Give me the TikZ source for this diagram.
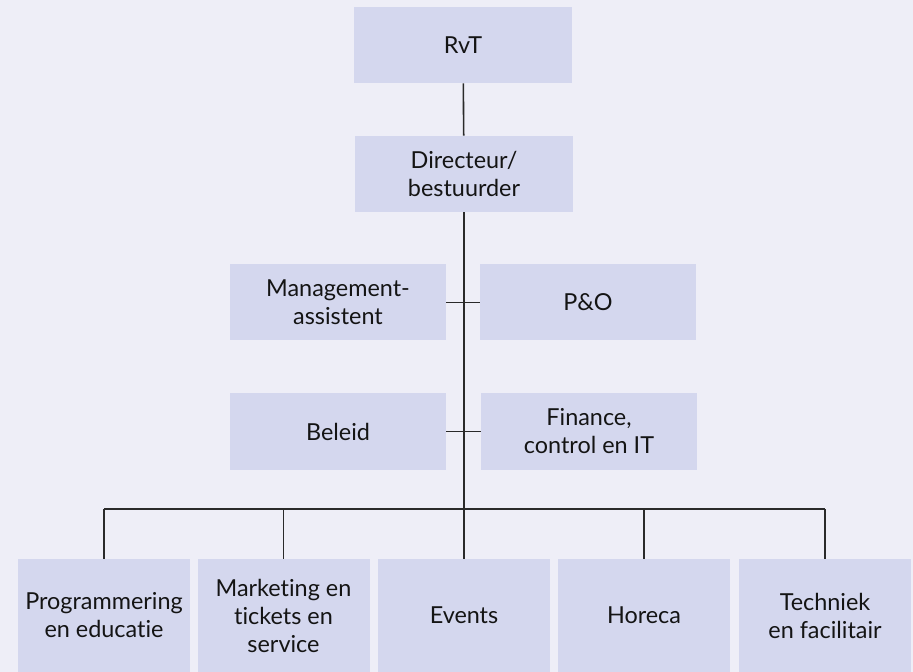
\documentclass[tikz,border=0pt]{standalone}
\usepackage{fontspec}
\setmainfont{Lato}[Ligatures=NoCommon]
\usetikzlibrary{positioning}
\definecolor{bgcol}{HTML}{EEEEF7}
\definecolor{boxcol}{HTML}{D4D7EE}
\definecolor{linecol}{HTML}{2A2A2A}
\definecolor{textcol}{HTML}{141414}
\begin{document}
\begin{tikzpicture}[x=0.5pt,y=-0.5pt]
        % Styles
        \tikzset{
            unit/.style={rectangle,fill=boxcol,inner sep=0pt,align=center,
                text=textcol,font=\fontsize{11.7}{14}\selectfont,
                minimum width=109pt,minimum height=38pt},
            dept/.style={unit,minimum width=86pt,minimum height=56.5pt},
            link/.style={draw=linecol,line width=0.8pt}
        }
        %background
        \fill[bgcol] (0,0) rectangle (913,672);
        \useasboundingbox (0,0) rectangle (913,672);
        %top of the chart
        \node[unit] (rvt) at (463,45) {RvT};
        \node[unit] (dir) at (464,174) {Directeur/\\bestuurder};
        %staff
        \node[unit,minimum width=108pt] (mgmt) at (338,302.5) {Management-\\assistent};
        \node[unit,minimum width=108pt] (po) at (588,302.5) {P\&O};
        \node[unit,minimum width=108pt] (beleid) at (338,431.5) {Beleid};
        \node[unit,minimum width=108pt] (fin) at (589,431.5) {Finance,\\control en IT};
        %departments
        \node[dept] (prog) at (104,615.5) {Programmering\\en educatie};
        \node[dept] (mark) at (283.5,615.5) {Marketing en\\tickets en\\service};
        \node[dept] (events) at (464,615.5) {Events};
        \node[dept] (horeca) at (644,615.5) {Horeca};
        \node[dept] (tech) at (825,615.5) {Techniek\\en facilitair};
        %lines
        \coordinate (bus) at (464,509);
        \draw[link] (rvt) -- (dir);
        \draw[link] (dir.south) -- (bus);
        \draw[link] (mgmt.east) -- (po.west);
        \draw[link] (beleid.east) -- (fin.west);
        \draw[link] (prog.north |- bus) -- (tech.north |- bus);
        \foreach \d in {prog,mark,events,horeca,tech}
            \draw[link] (\d.north) -- (\d.north |- bus);
\end{tikzpicture}
\end{document}
